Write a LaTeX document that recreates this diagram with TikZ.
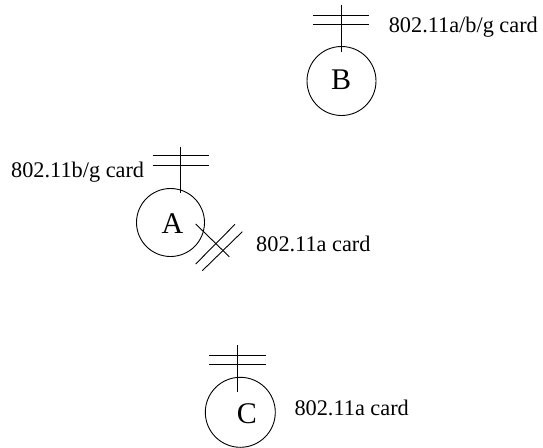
\documentclass[tikz,border=0pt]{standalone}
\usepackage{fontspec}
\setmainfont{Liberation Serif}
\begin{document}
\begin{tikzpicture}[x=1pt,y=-1pt,
  line/.style={draw=black,line width=0.9pt},
  station/.style={circle,draw=black,line width=0.9pt,inner sep=0pt},
  letter/.style={font=\fontsize{30}{30}\selectfont,inner sep=0pt},
  cardlabel/.style={font=\fontsize{22.3}{24}\selectfont,inner sep=0pt,anchor=base west}]
\useasboundingbox (0,0) rectangle (543,447);
% stations
\node[station,minimum size=69pt] (B) at (341.5,81) {};
\node[letter] (Bt) at (341,80) {B};
\node[station,minimum size=68pt] (A) at (170.5,222.5) {};
\node[letter] (At) at (172.5,224) {A};
\node[station,minimum size=70pt] (C) at (240.3,412.3) {};
\node[letter] (Ct) at (247,414) {C};
% antenna of B
\coordinate (Bb) at (341,52); \coordinate (Be) at (341,5);
\draw[line] (Bb) -- (Be);
\draw[line] (313,15) -- (369,15);
\draw[line] (313,24) -- (369,24);
% antenna of A (up)
\coordinate (Ab) at (180.7,193); \coordinate (Ae) at (180.7,147);
\draw[line] (Ab) -- (Ae);
\draw[line] (152.7,155.7) -- (209,155.7);
\draw[line] (152.7,165.7) -- (209,165.7);
% antenna of A (diagonal)
\coordinate (Db) at (195.7,224); \coordinate (De) at (229.3,256.7);
\draw[line] (Db) -- (De);
\draw[line] (195.7,264) -- (235,224.3);
\draw[line] (202.3,270.7) -- (242.3,231.7);
% antenna of C
\coordinate (Cb) at (237.3,392.3); \coordinate (Ce) at (237.3,345);
\draw[line] (Cb) -- (Ce);
\draw[line] (209,355) -- (265.7,355);
\draw[line] (209,364) -- (265.7,364);
% labels
\node[cardlabel] (LB) at (388.6,32) {802.11a/b/g card};
\node[cardlabel] (LA1) at (11,177.3) {802.11b/g card};
\node[cardlabel] (LA2) at (256,251) {802.11a card};
\node[cardlabel] (LC) at (294.3,415.7) {802.11a card};
\end{tikzpicture}
\end{document}
